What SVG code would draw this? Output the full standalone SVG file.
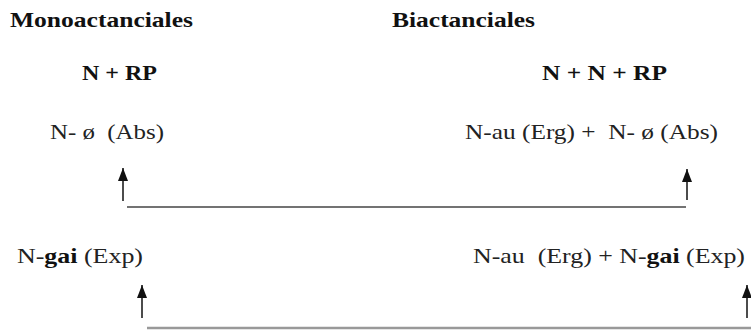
<svg xmlns="http://www.w3.org/2000/svg" width="751" height="330" viewBox="0 0 751 330">
<style>
text{font-family:"Liberation Serif","Times New Roman",serif;font-size:22px;fill:#222;white-space:pre}
.b{font-weight:bold;fill:#111}
.arr{stroke:#111;stroke-width:1.5;fill:none}
</style>
<defs>
<marker id="ah" markerUnits="userSpaceOnUse" markerWidth="14" markerHeight="11" refX="13" refY="5" orient="auto" viewBox="0 0 14 10">
<path d="M0 0 L13 5 L0 10 Z" fill="#111"/>
</marker>
</defs>
<rect width="751" height="330" fill="#fff"/>
<g id="hdr-mono"><text class="b" x="10" y="26.5" textLength="183" lengthAdjust="spacingAndGlyphs">Monoactanciales</text></g>
<g id="hdr-bi"><text class="b" x="392" y="26.5" textLength="143" lengthAdjust="spacingAndGlyphs">Biactanciales</text></g>
<g id="f-mono"><text class="b" x="82" y="80" textLength="75" lengthAdjust="spacingAndGlyphs">N + RP</text></g>
<g id="f-bi"><text class="b" x="542" y="80" textLength="125" lengthAdjust="spacingAndGlyphs">N + N + RP</text></g>
<g id="abs-mono"><text x="50" y="139" textLength="114" lengthAdjust="spacingAndGlyphs">N- ø  (Abs)</text></g>
<g id="abs-bi"><text x="465" y="139" textLength="253" lengthAdjust="spacingAndGlyphs">N-au (Erg) +  N- ø (Abs)</text></g>
<g id="exp-mono"><text x="17" y="263" textLength="126" lengthAdjust="spacingAndGlyphs">N-<tspan class="b">gai</tspan> (Exp)</text></g>
<g id="exp-bi"><text x="473" y="263" textLength="272" lengthAdjust="spacingAndGlyphs">N-au  (Erg) + N-<tspan class="b">gai</tspan> (Exp)</text></g>
<g id="connectors">
<line x1="127" y1="207" x2="686" y2="207" stroke="#444" stroke-width="1.6"/>
<line x1="147" y1="328" x2="751" y2="328" stroke="#999" stroke-width="2.5"/>
<line class="arr" x1="123" y1="201" x2="123" y2="168" marker-end="url(#ah)"/>
<line class="arr" x1="687" y1="200" x2="687" y2="169" marker-end="url(#ah)"/>
<line class="arr" x1="142" y1="318" x2="142" y2="285" marker-end="url(#ah)"/>
<line class="arr" x1="747" y1="318" x2="747" y2="285" marker-end="url(#ah)"/>
</g>
</svg>
